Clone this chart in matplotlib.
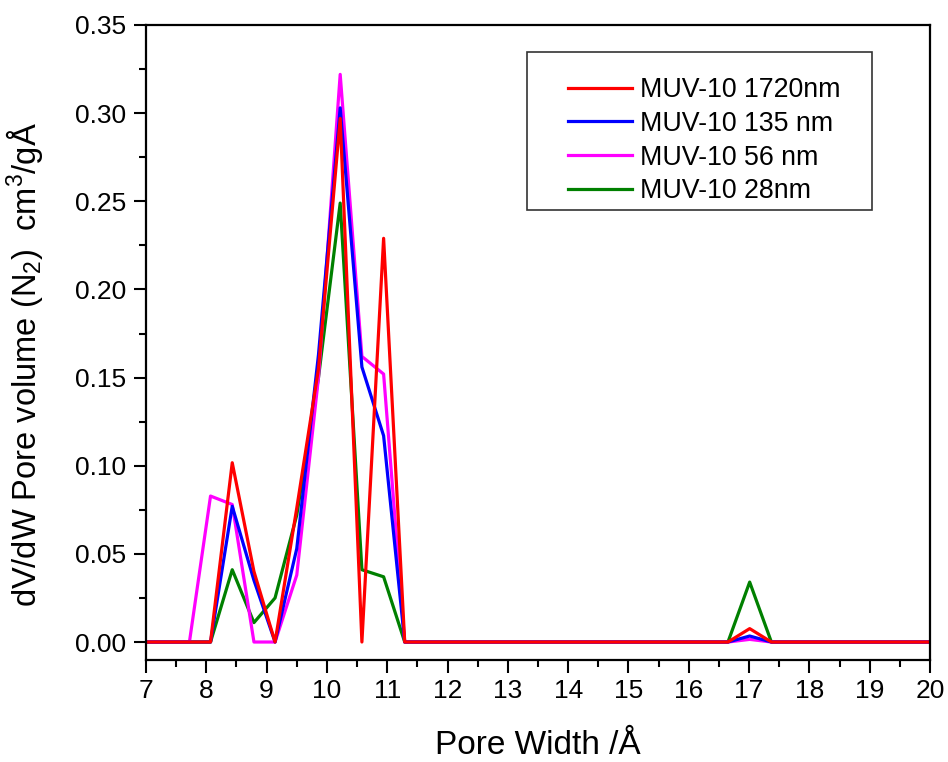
import matplotlib
matplotlib.use("Agg")
import matplotlib.pyplot as plt
from matplotlib.ticker import MultipleLocator
from matplotlib.patches import Rectangle

plt.rcParams['font.family'] = ['Liberation Sans', 'DejaVu Sans']
plt.rcParams['mathtext.fontset'] = 'custom'
plt.rcParams['mathtext.rm'] = 'Liberation Sans'
plt.rcParams['mathtext.it'] = 'Liberation Sans'

pore_width = [7.0, 7.72, 8.07, 8.43, 8.79, 9.14, 9.50, 9.86, 10.22, 10.58, 10.94, 11.29, 16.65, 17.01, 17.37, 20.0]

muv_1720 = [0, 0, 0, 0.1017, 0.040, 0, 0.076, 0.155, 0.297, 0, 0.229, 0, 0, 0.0076, 0, 0]
muv_135 = [0, 0, 0, 0.077, 0.035, 0, 0.053, 0.163, 0.303, 0.156, 0.117, 0, 0, 0.0034, 0, 0]
muv_56 = [0, 0, 0.0828, 0.078, 0, 0, 0.038, 0.150, 0.322, 0.162, 0.152, 0, 0, 0.0015, 0, 0]
muv_28 = [0, 0, 0, 0.041, 0.011, 0.025, 0.072, 0.150, 0.249, 0.041, 0.037, 0, 0, 0.034, 0, 0]

labels = ['MUV-10 1720nm', 'MUV-10 135 nm', 'MUV-10 56 nm', 'MUV-10 28nm']
colors = ['#ff0000', '#0000ff', '#ff00ff', '#008000']

W, H = 948, 762
fig = plt.figure(figsize=(W/100, H/100), dpi=100)
ax = fig.add_axes([146/W, 1-660/H, (930-146)/W, (660-25)/H])

series = [muv_1720, muv_135, muv_56, muv_28]
order = [3, 2, 1, 0]
handles = {}
for i in order:
    h, = ax.plot(pore_width, series[i], color=colors[i], lw=2.3, label=labels[i])
    handles[i] = h

ax.set_xlim(7, 20)
ax.set_ylim(-0.0102, 0.35)
ax.xaxis.set_major_locator(MultipleLocator(1))
ax.xaxis.set_minor_locator(MultipleLocator(0.5))
ax.yaxis.set_major_locator(MultipleLocator(0.05))
ax.yaxis.set_minor_locator(MultipleLocator(0.025))
ax.yaxis.set_major_formatter(matplotlib.ticker.FormatStrFormatter('%.2f'))
ax.tick_params(which='major', direction='out', length=9, width=1.5, labelsize=19, pad=5)
ax.tick_params(which='minor', direction='out', length=5, width=1.5)
for s in ax.spines.values():
    s.set_linewidth(1.6)

ax.set_xlabel('Pore Width /Å', fontsize=24, labelpad=19)
ax.set_ylabel('dV/dW Pore volume (N$_2$)  cm$^3$/gÅ', fontsize=23.5)
ax.yaxis.set_label_coords(-0.129, 0.465)

# legend frame drawn as a rectangle in figure pixels
x0, y0, x1, y1 = 527, 52, 872, 210
rect = Rectangle((x0/W, 1-y1/H), (x1-x0)/W, (y1-y0)/H,
                 transform=fig.transFigure, fill=True, facecolor='white',
                 edgecolor='#333333', lw=1.2, zorder=5, clip_on=False)
ax.add_patch(rect)

leg = ax.legend([handles[i] for i in range(4)], labels, loc='upper left',
                bbox_to_anchor=(560/W, 1-69/H), bbox_transform=fig.transFigure,
                fontsize=19.3, frameon=False,
                handlelength=2.4, handletextpad=0.3, labelspacing=0.29,
                borderpad=0.3, borderaxespad=0)
leg.set_zorder(6)

fig.savefig('out.png', dpi=100)
